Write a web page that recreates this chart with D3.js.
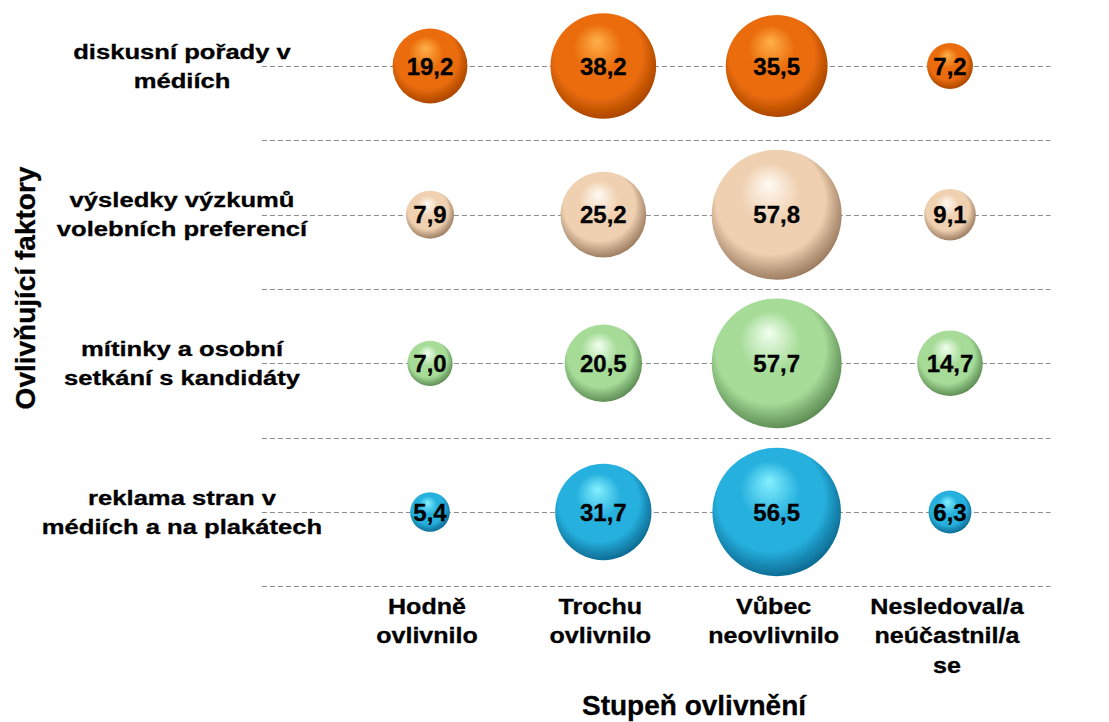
<!DOCTYPE html>
<html>
<head>
<meta charset="utf-8">
<script src="https://cdn.jsdelivr.net/npm/d3@7"></script>
<style>
  body { margin: 0; background: #fff; }
  text { font-family: "Liberation Sans", Arial, sans-serif; font-weight: bold; fill: #000; stroke: #000; stroke-width: 0.3px; }
  .grid { stroke: #8c8c8c; stroke-width: 1; stroke-dasharray: 5,3; }
</style>
</head>
<body>
<svg id="bubbles"></svg>
<script>
// data
const factors = [
  ["diskusní pořady v", "médiích"],
  ["výsledky výzkumů", "volebních preferencí"],
  ["mítinky a osobní", "setkání s kandidáty"],
  ["reklama stran v", "médiích a na plakátech"]
];
const degrees = [
  ["Hodně", "ovlivnilo"],
  ["Trochu", "ovlivnilo"],
  ["Vůbec", "neovlivnilo"],
  ["Nesledoval/a", "neúčastnil/a", "se"]
];
const diskusni = [19.2, 38.2, 35.5, 7.2];
const vyzkumy = [7.9, 25.2, 57.8, 9.1];
const mitinky = [7.0, 20.5, 57.7, 14.7];
const reklama = [5.4, 31.7, 56.5, 6.3];
const series = [diskusni, vyzkumy, mitinky, reklama];

// colours of each row: highlight, base, edge
const shades = [
  ["#ffb04a", "#ea6c0a", "#a84400"],
  ["#fffaf2", "#efd0b0", "#98785c"],
  ["#f2fff0", "#a6dc98", "#5a8850"],
  ["#84f0ff", "#26b0de", "#0c6890"]
];

const width = 1109;
const height = 722;

var svg = d3.select("#bubbles")
    .attr("width", width)
    .attr("height", height);

// column scale (index of degree) and row scale (index of factor)
var x = d3.scaleLinear().domain([0, 3]).range([430, 950]);
var y = d3.scaleLinear().domain([0, 3]).range([66, 512]);
var r = d3.scaleSqrt().domain([0, 57.8]).range([0, 65]);

var comma = d3.formatLocale({decimal: ",", thousands: " ", grouping: [3], currency: ["", ""]}).format(".1f");

// gradients for the 3d balls
var defs = svg.append("defs");
shades.forEach(function (s, i) {
    var g = defs.append("radialGradient")
        .attr("id", "ball" + i)
        .attr("cx", "46%").attr("cy", "44%").attr("r", "58%")
        .attr("fx", "44%").attr("fy", "26%");
    g.append("stop").attr("offset", "0%").attr("stop-color", s[0]);
    g.append("stop").attr("offset", "40%").attr("stop-color", s[1]);
    g.append("stop").attr("offset", "72%").attr("stop-color", s[1]);
    g.append("stop").attr("offset", "88%").attr("stop-color", d3.interpolateRgb(s[1], s[2])(0.6));
    g.append("stop").attr("offset", "100%").attr("stop-color", s[2]);
});
defs.append("filter").attr("id", "soft")
    .append("feGaussianBlur").attr("stdDeviation", 0.7);

// gridlines: one through each row, one between rows
var x0 = x(-0.97), x1 = x(3.58);
var lines = [];
factors.forEach(function (f, i) { lines.push(i); lines.push(i + 0.5); });
svg.append("g").selectAll("line")
    .data(lines)
    .join("line")
    .attr("class", "grid")
    .attr("x1", x0).attr("x2", x1)
    .attr("y1", function (d) { return Math.round(y(d)) + 0.5; })
    .attr("y2", function (d) { return Math.round(y(d)) + 0.5; });

// bubbles
var cells = [];
series.forEach(function (row, i) {
    row.forEach(function (v, j) { cells.push({row: i, col: j, v: v}); });
});
var ball = svg.append("g").selectAll("g")
    .data(cells)
    .join("g")
    .attr("transform", function (d) { return "translate(" + x(d.col) + "," + y(d.row) + ")"; });
ball.append("circle")
    .attr("r", function (d) { return r(d.v); })
    .attr("fill", function (d) { return "url(#ball" + d.row + ")"; })
    .attr("filter", "url(#soft)");
ball.append("text")
    .attr("text-anchor", "middle")
    .attr("dy", "0.36em")
    .style("font-size", "24px")
    .text(function (d) { return comma(d.v); });

// row labels (the original text is drawn a bit wide)
var rowLab = svg.append("g").selectAll("text")
    .data(factors)
    .join("text")
    .attr("text-anchor", "middle")
    .attr("transform", function (d, i) { return "translate(182," + y(i) + ") scale(1.22,1)"; })
    .style("font-size", "21px");
rowLab.selectAll("tspan")
    .data(function (d) { return d; })
    .join("tspan")
    .attr("x", 0)
    .attr("dy", function (d, k, nodes) { return k === 0 ? (-(nodes.length - 1) * 0.7 + 0.35) + "em" : "1.38em"; })
    .text(function (d) { return d; });

// column labels
var colLab = svg.append("g").selectAll("text")
    .data(degrees)
    .join("text")
    .attr("text-anchor", "middle")
    .attr("transform", function (d, i) { return "translate(" + (x(i) - 3) + ",614) scale(1.14,1)"; })
    .style("font-size", "22px");
colLab.selectAll("tspan")
    .data(function (d) { return d; })
    .join("tspan")
    .attr("x", 0)
    .attr("dy", function (d, k) { return k === 0 ? 0 : "1.33em"; })
    .text(function (d) { return d; });

// axis titles
svg.append("text")
    .attr("text-anchor", "middle")
    .attr("transform", "translate(35,288) rotate(-90)")
    .style("font-size", "28px")
    .text("Ovlivňující faktory");
svg.append("text")
    .attr("text-anchor", "middle")
    .attr("x", 694)
    .attr("y", 715)
    .style("font-size", "28px")
    .text("Stupeň ovlivnění");
</script>
</body>
</html>
